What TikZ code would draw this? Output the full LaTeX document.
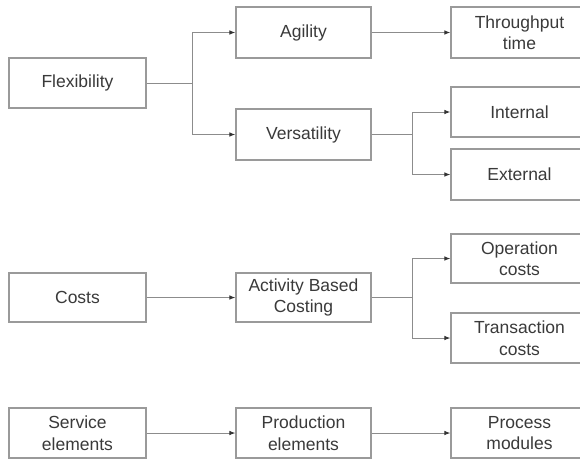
\documentclass[tikz,border=0pt]{standalone}
\usepackage{fontspec}
\setmainfont{Liberation Sans}
\usetikzlibrary{arrows.meta}
\definecolor{boxline}{HTML}{9A9A9A}
\definecolor{linkline}{HTML}{8C8C8C}
\definecolor{labeltext}{HTML}{3A3A3A}
\tikzset{
  item/.style={draw=boxline, line width=1.1pt, fill=white, text=labeltext,
    align=center, inner sep=0pt,
    font=\fontsize{17.5}{21.5}\selectfont},
  wide/.style={item, minimum width=137pt},
  mid/.style={item, minimum width=135pt},
  tall/.style={minimum height=50pt},
  link/.style={draw=linkline, line width=1pt,
    -{Latex[length=6pt,width=4.5pt,color=black!80]}},
  trunk/.style={draw=linkline, line width=1pt}
}
\begin{document}
\begin{tikzpicture}[x=1pt,y=-1pt]
\useasboundingbox (0,0) rectangle (580,459);
\fill[white] (0,0) rectangle (580,459);

% first column
\node[wide, tall] (flex) at (77.5,83) {Flexibility};
\node[wide, minimum height=49pt] (costs) at (77.5,297.5) {Costs};
\node[wide, tall] (service) at (77.5,433) {Service\\elements};

% second column
\node[mid, minimum height=51pt] (agility) at (303.5,32.5) {Agility};
\node[mid, minimum height=51pt] (vers) at (303.5,134.5) {Versatility};
\node[mid, minimum height=49pt] (abc) at (303.5,297.5) {Activity Based\\Costing};
\node[mid, tall] (prod) at (303.5,433) {Production\\elements};

% third column
\node[wide, minimum height=51pt] (through) at (519.5,32.5) {Throughput\\time};
\node[wide, tall] (internal) at (519.5,112) {Internal};
\node[wide, minimum height=51pt] (external) at (519.5,174.5) {External};
\node[wide, minimum height=49pt] (oper) at (519.5,258.5) {Operation\\costs};
\node[wide, tall] (trans) at (519.5,338) {Transaction\\costs};
\node[wide, tall] (process) at (519.5,433) {Process\\modules};

% branch points
\coordinate (fork1) at (192,83);
\coordinate (fork2) at (412,134.5);
\coordinate (fork3) at (412,297.5);

% flexibility tree
\draw[trunk] (flex.east) -- (fork1);
\draw[link] (fork1) |- (agility.west);
\draw[link] (fork1) |- (vers.west);
\draw[link] (agility.east) -- (through.west |- agility.east);
\draw[trunk] (vers.east) -- (fork2);
\draw[link] (fork2) |- (internal.west);
\draw[link] (fork2) |- (external.west);

% costs tree
\draw[link] (costs.east) -- (abc.west);
\draw[trunk] (abc.east) -- (fork3);
\draw[link] (fork3) |- (oper.west);
\draw[link] (fork3) |- (trans.west);

% elements chain
\draw[link] (service.east) -- (prod.west);
\draw[link] (prod.east) -- (process.west);
\end{tikzpicture}
\end{document}
